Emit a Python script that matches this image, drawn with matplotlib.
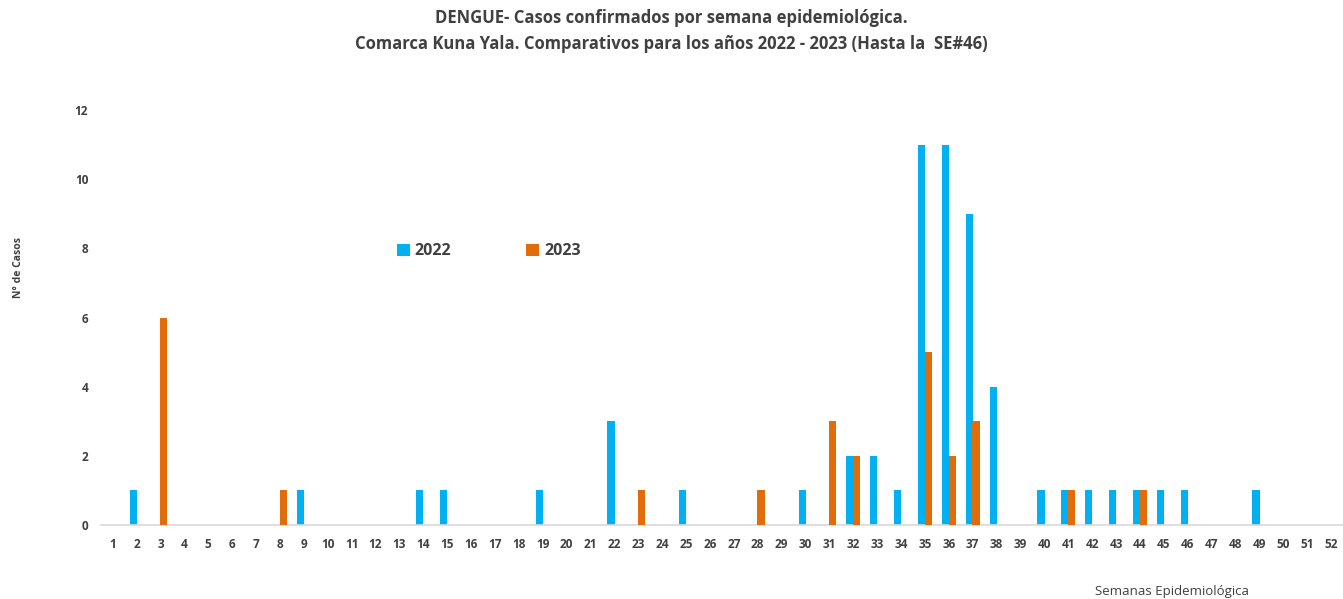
import matplotlib.pyplot as plt
import numpy as np

plt.rcParams['font.family'] = ['Open Sans', 'DejaVu Sans']

weeks = np.arange(1, 53)
week_labels = [str(w) for w in weeks]

# casos por semana
casos_2022 = {2: 1, 9: 1, 14: 1, 15: 1, 19: 1, 22: 3, 25: 1, 30: 1, 32: 2, 33: 2,
              34: 1, 35: 11, 36: 11, 37: 9, 38: 4, 40: 1, 41: 1, 42: 1, 43: 1,
              44: 1, 45: 1, 46: 1, 49: 1}
casos_2023 = {3: 6, 8: 1, 23: 1, 28: 1, 31: 3, 32: 2, 35: 5, 36: 2, 37: 3,
              41: 1, 44: 1}

y2022 = np.array([casos_2022.get(w, 0) for w in weeks])
y2023 = np.array([casos_2023.get(w, 0) for w in weeks])

blue = '#00B0F0'
orange = '#E36C0A'
txt = '#404040'

fig = plt.figure(figsize=(13.43, 5.99), dpi=100)
ax = fig.add_axes([0.075, 0.1235, 0.925, 0.6925])

w = 0.3
ax.bar(weeks - 0.14, y2022, width=w, color=blue, label='2022', zorder=2)
ax.bar(weeks + 0.14, y2023, width=w, color=orange, label='2023', zorder=3)

ax.set_xlim(0.5, 52.5)
ax.set_ylim(0, 12)
ax.set_xticks(weeks)
ax.set_xticklabels(week_labels)
ax.set_yticks(range(0, 13, 2))

for s in ['top', 'right', 'left']:
    ax.spines[s].set_visible(False)
ax.spines['bottom'].set_color('#D9D9D9')
ax.spines['bottom'].set_linewidth(1.2)
ax.tick_params(axis='both', length=0, colors=txt, labelsize=8.5)
ax.tick_params(axis='x', pad=9)
ax.tick_params(axis='y', pad=9)
for lab in ax.get_xticklabels() + ax.get_yticklabels():
    lab.set_fontweight('bold')

fig.text(0.5, 0.985, 'DENGUE- Casos confirmados por semana epidemiológica.\n'
         'Comarca Kuna Yala. Comparativos para los años 2022 - 2023 (Hasta la  SE#46)',
         ha='center', va='top', fontsize=12, fontweight='bold', color=txt,
         linespacing=1.6)

fig.text(0.0135, 0.554, 'N° de Casos', rotation=90, ha='center', va='center',
         fontsize=7.5, fontweight='bold', color=txt)
fig.text(0.873, 0.013, 'Semanas Epidemiológica', ha='center', va='center',
         fontsize=9.5, color=txt)

leg = ax.legend(loc='center left', bbox_to_anchor=(0.227, 0.66), ncol=2,
                frameon=False, handlelength=0.8, handleheight=0.8,
                handletextpad=0.3, columnspacing=4.7,
                prop={'size': 11.5, 'weight': 'bold'})
for t in leg.get_texts():
    t.set_color(txt)

fig.savefig('out.png', dpi=100)
